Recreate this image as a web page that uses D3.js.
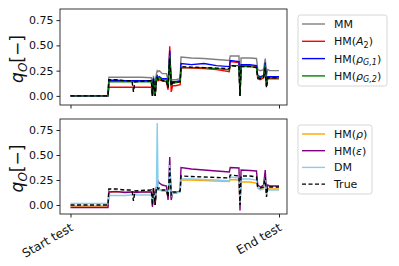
<!DOCTYPE html>
<html>
<head>
<meta charset="utf-8">
<script src="https://cdn.jsdelivr.net/npm/d3@7"></script>
<style>
  body { margin: 0; background: #fff; }
  svg { font-family: "DejaVu Sans", sans-serif; }
</style>
</head>
<body>
<div id="chart"></div>
<script>
// sample positions along the test (0 = start, 100 = end)
const t = [0, 18, 18.4, 22, 26, 29.5, 30.2, 30.9, 34, 38.8, 39.3, 39.8, 40.6, 41.2, 41.6, 42.0,
  42.6, 44, 46, 46.8, 47.6, 48.3, 49.0, 50.5, 52.6, 53.0, 58, 64, 70, 76.2, 76.6, 80.8,
  81.3, 81.8, 86, 89.2, 89.8, 91, 92.6, 93.4, 94.0, 94.6, 95.6, 100]

const xTicks = [0, 100]
const xTickLabels = ["Start test", "End test"]
const yTicks = [0, 0.25, 0.5, 0.75]

// top panel
const mm = [0, 0, 0.185, 0.185, 0.185, 0.185, 0.185, 0.185, 0.185, 0.18, 0.02, 0.2, 0.03, 0.22, 0.25, 0.24,
  0.25, 0.22, 0.22, 0.15, 0.4, 0.15, 0.16, 0.16, 0.17, 0.385, 0.375, 0.37, 0.36, 0.35, 0.395, 0.395,
  0.05, 0.375, 0.375, 0.37, 0.26, 0.25, 0.26, 0.37, 0.2, 0.26, 0.25, 0.25]
const hmA2 = [0, 0, 0.085, 0.085, 0.085, 0.085, 0.085, 0.085, 0.085, 0.085, 0.0, 0.15, 0.0, 0.16, 0.17, 0.15,
  0.16, 0.15, 0.14, 0.06, 0.49, 0.04, 0.1, 0.1, 0.11, 0.28, 0.275, 0.27, 0.26, 0.24, 0.34, 0.33,
  0.0, 0.3, 0.3, 0.29, 0.17, 0.16, 0.18, 0.3, 0.1, 0.17, 0.17, 0.17]
const hmG1 = [0, 0, 0.155, 0.155, 0.15, 0.15, 0.15, 0.15, 0.15, 0.15, 0.01, 0.18, 0.01, 0.19, 0.2, 0.18,
  0.19, 0.17, 0.17, 0.1, 0.45, 0.12, 0.14, 0.14, 0.15, 0.32, 0.31, 0.32, 0.3, 0.29, 0.35, 0.34,
  0.01, 0.31, 0.31, 0.3, 0.2, 0.19, 0.2, 0.33, 0.12, 0.19, 0.19, 0.19]
const hmG2 = [0, 0, 0.14, 0.14, 0.14, 0.14, 0.14, 0.14, 0.14, 0.14, 0.0, 0.17, 0.0, 0.18, 0.19, 0.17,
  0.18, 0.16, 0.16, 0.09, 0.4, 0.1, 0.13, 0.13, 0.14, 0.28, 0.28, 0.28, 0.27, 0.26, 0.3, 0.3,
  0.0, 0.29, 0.29, 0.28, 0.19, 0.18, 0.19, 0.31, 0.1, 0.18, 0.18, 0.18]
const truth = [0, 0, 0.16, 0.16, 0.15, 0.15, 0.04, 0.14, 0.145, 0.15, 0.0, 0.17, 0.0, 0.17, 0.18, 0.16,
  0.17, 0.15, 0.15, 0.08, 0.37, 0.1, 0.13, 0.13, 0.14, 0.29, 0.285, 0.28, 0.275, 0.27, 0.3, 0.29,
  0.0, 0.29, 0.29, 0.28, 0.18, 0.17, 0.18, 0.28, 0.08, 0.18, 0.18, 0.18]

// bottom panel
const hmRho = [-0.01, -0.01, 0.13, 0.13, 0.13, 0.13, 0.13, 0.13, 0.13, 0.13, 0.0, 0.15, 0.0, 0.16, 0.15, 0.15,
  0.16, 0.14, 0.14, 0.08, 0.36, 0.1, 0.12, 0.12, 0.13, 0.25, 0.25, 0.245, 0.24, 0.235, 0.255, 0.25,
  0.0, 0.23, 0.23, 0.22, 0.17, 0.16, 0.17, 0.27, 0.1, 0.16, 0.16, 0.16]
const hmEps = [-0.025, -0.025, 0.13, 0.135, 0.125, 0.13, 0.13, 0.125, 0.13, 0.13, -0.02, 0.17, 0.0, 0.18, 0.2, 0.24,
  0.22, 0.2, 0.19, 0.05, 0.48, 0.05, 0.12, 0.12, 0.14, 0.375, 0.36, 0.35, 0.34, 0.33, 0.375, 0.37,
  -0.055, 0.35, 0.345, 0.34, 0.2, 0.18, 0.2, 0.35, 0.12, 0.2, 0.19, 0.19]
const dm = [0.015, 0.015, 0.095, 0.095, 0.095, 0.1, 0.1, 0.1, 0.1, 0.1, 0.02, 0.12, 0.05, 0.14, 0.82, 0.15,
  0.15, 0.14, 0.14, 0.1, 0.4, 0.08, 0.12, 0.12, 0.13, 0.26, 0.26, 0.255, 0.25, 0.24, 0.28, 0.27,
  0.02, 0.26, 0.26, 0.25, 0.17, 0.15, 0.16, 0.28, 0.1, 0.15, 0.15, 0.15]

const topSeries = [
  {name: "MM", values: mm, color: "gray"},
  {name: "HM(A2)", values: hmA2, color: "red"},
  {name: "HM(rhoG1)", values: hmG1, color: "blue"},
  {name: "HM(rhoG2)", values: hmG2, color: "green"},
  {name: "True", values: truth, color: "black", dash: "4,2.5"}
]
const bottomSeries = [
  {name: "HM(rho)", values: hmRho, color: "orange"},
  {name: "HM(eps)", values: hmEps, color: "purple"},
  {name: "DM", values: dm, color: "skyblue"},
  {name: "True", values: truth, color: "black", dash: "4,2.5"}
]

const width = 399, height = 266

const svg = d3.select("#chart").append("svg")
  .attr("width", width)
  .attr("height", height)

const x = d3.scaleLinear().domain([0, 100]).range([70.5, 279])

function drawPanel(top, bottom, series, showLabels) {
  let y = d3.scaleLinear().domain([-0.09, 0.86]).range([bottom, top])

  let g = svg.append("g")

  let clipId = "clip" + top
  svg.append("clipPath").attr("id", clipId)
    .append("rect").attr("x", 60).attr("y", top).attr("width", 227).attr("height", bottom - top)

  let line = d3.line().x((d, i) => x(t[i])).y(d => y(d))

  let lines = g.append("g").attr("clip-path", `url(#${clipId})`)
  series.forEach(s => {
    lines.append("path")
      .datum(s.values)
      .attr("d", line)
      .attr("fill", "none")
      .attr("stroke", s.color)
      .attr("stroke-width", 1.4)
      .attr("stroke-dasharray", s.dash || null)
  })

  g.append("rect")
    .attr("x", 60).attr("y", top)
    .attr("width", 227).attr("height", bottom - top)
    .attr("fill", "none").attr("stroke", "#222").attr("stroke-width", 0.9)

  let yAxis = g.append("g")
    .attr("transform", "translate(60,0)")
    .call(d3.axisLeft(y).tickValues(yTicks).tickFormat(d3.format(".2f")).tickSize(3.5).tickPadding(3))
  yAxis.select(".domain").remove()
  yAxis.selectAll("text").attr("font-size", 11).attr("fill", "#111").attr("font-family", "DejaVu Sans")
  yAxis.selectAll("line").attr("stroke", "#222")

  let xAxis = g.append("g")
    .attr("transform", `translate(0,${bottom})`)
    .call(d3.axisBottom(x).tickValues(xTicks).tickFormat((d, i) => showLabels ? xTickLabels[i] : "").tickSize(3.5))
  xAxis.select(".domain").remove()
  xAxis.selectAll("line").attr("stroke", "#222")
  xAxis.selectAll("text")
    .attr("font-size", 12).attr("fill", "#111").attr("font-family", "DejaVu Sans")
    .attr("text-anchor", "end")
    .attr("dy", null)
    .attr("y", null)
    .attr("transform", "translate(3,16) rotate(-30)")

  // y label q_O [−]
  let yl = g.append("text")
    .attr("transform", `translate(23,${(top + bottom) / 2 + 2}) rotate(-90)`)
    .attr("text-anchor", "middle")
    .attr("font-size", 17)
    .attr("fill", "#111")
  yl.append("tspan").attr("font-style", "italic").text("q")
  yl.append("tspan").attr("font-style", "italic").attr("font-size", 12).attr("dy", 3.5).text("O")
  yl.append("tspan").attr("dy", -3.5).text("[−]")
}

drawPanel(9, 105, topSeries, false)
drawPanel(119, 214, bottomSeries, true)

function legendLabel(text, parts) {
  parts.forEach(p => {
    let ts = text.append("tspan").text(p.s)
    if (p.it) ts.attr("font-style", "italic")
    if (p.sub) ts.attr("font-size", 8).attr("dy", p.dy)
    else if (p.dy) ts.attr("dy", p.dy)
  })
}

function drawLegend(bx, by, bw, bh, y0, step, series, labels) {
  let g = svg.append("g")
  g.append("rect")
    .attr("x", bx).attr("y", by).attr("width", bw).attr("height", bh)
    .attr("rx", 2.5)
    .attr("fill", "white").attr("stroke", "#d6d6d6").attr("stroke-width", 1)
  series.forEach((s, i) => {
    let yy = y0 + i * step
    g.append("line")
      .attr("x1", 302).attr("x2", 325).attr("y1", yy).attr("y2", yy)
      .attr("stroke", s.color).attr("stroke-width", 1.4)
      .attr("stroke-dasharray", s.dash || null)
    let txt = g.append("text")
      .attr("x", 334).attr("y", yy + 4)
      .attr("font-size", 11).attr("fill", "#111")
    legendLabel(txt, labels[i])
  })
}

const topLabels = [
  [{s: "MM"}],
  [{s: "HM("}, {s: "A", it: true}, {s: "2", sub: true, dy: 2.5}, {s: ")", dy: -2.5}],
  [{s: "HM("}, {s: "ρ", it: true}, {s: "G,1", sub: true, it: true, dy: 2.5}, {s: ")", dy: -2.5}],
  [{s: "HM("}, {s: "ρ", it: true}, {s: "G,2", sub: true, it: true, dy: 2.5}, {s: ")", dy: -2.5}]
]
const bottomLabels = [
  [{s: "HM("}, {s: "ρ", it: true}, {s: ")"}],
  [{s: "HM("}, {s: "ε", it: true}, {s: ")"}],
  [{s: "DM"}],
  [{s: "True"}]
]

drawLegend(298, 15, 89, 71, 24, 17.3, topSeries.slice(0, 4), topLabels)
drawLegend(298, 125, 74, 69, 134, 16.7, bottomSeries, bottomLabels)
</script>
</body>
</html>
